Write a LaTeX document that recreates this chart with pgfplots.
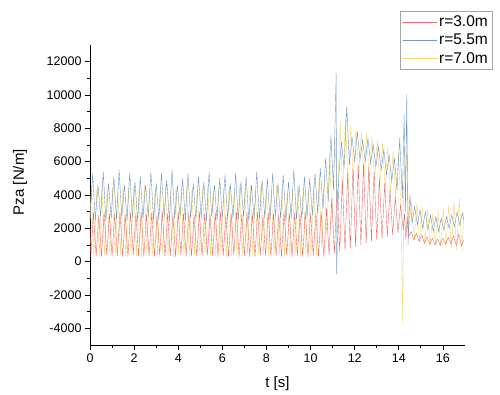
\documentclass[border=0pt]{standalone}
\usepackage{fontspec}
\setmainfont{Liberation Sans}
\usepackage{pgfplots}
\pgfplotsset{compat=1.18}
\definecolor{cred}{RGB}{228,110,110}
\definecolor{cblue}{RGB}{115,152,190}
\definecolor{cyel}{RGB}{244,214,118}
\begin{document}
\begin{tikzpicture}
\useasboundingbox (-90pt,-49pt) rectangle (410pt,345pt);
\begin{axis}[
  scale only axis, width=375pt, height=300pt,
  xmin=0, xmax=17, ymin=-5000, ymax=13000,
  axis lines=left, axis line style={-, line width=0.8pt},
  tick align=outside, major tick length=5pt, minor tick length=3pt,
  tick style={black, line width=0.8pt},
  xtick={0,2,...,16}, minor x tick num=1,
  ytick={-4000,-2000,...,12000}, minor y tick num=1,
  scaled y ticks=false,
  /pgf/number format/assume math mode=true,
  /pgf/number format/set thousands separator={},
  ticklabel style={font=\fontsize{12.5}{14}\selectfont},
  xlabel={t [s]}, ylabel={Pza [N/m]},
  label style={font=\fontsize{15}{17}\selectfont},
  xlabel style={at={(axis description cs:0.5,-0.13)}, anchor=center},
  ylabel style={at={(axis description cs:-0.187,0.543)}, anchor=center},
  reverse legend,
  legend style={at={(1.072,1.113)}, anchor=north east, draw=gray!70, fill=white,
    font=\fontsize{15.5}{17}\selectfont, row sep=2pt, inner xsep=2pt, inner ysep=2.5pt},
  legend cell align=left,
  legend image code/.code={\draw[#1, line width=0.6pt] (0pt,0pt) -- (34pt,0pt);},
  every axis plot/.append style={line width=0.4pt},
]
\addplot[cyel] table {
0.00 2500
0.06 4500
0.18 350
0.30 4300
0.42 300
0.54 4600
0.66 400
0.78 4400
0.90 300
1.02 4500
1.14 350
1.26 4200
1.38 450
1.50 4600
1.62 300
1.74 4400
1.86 400
1.98 4500
2.10 350
2.22 4300
2.34 300
2.46 4600
2.58 400
2.70 4400
2.82 350
2.94 4200
3.06 300
3.18 4500
3.30 450
3.42 4600
3.54 350
3.66 4300
3.78 300
3.90 4400
4.02 400
4.14 4500
4.26 350
4.38 4600
4.50 300
4.62 4300
4.74 400
4.86 4500
4.98 350
5.10 4400
5.22 450
5.34 4600
5.46 300
5.58 4200
5.70 350
5.82 4500
5.94 400
6.06 4400
6.18 300
6.30 4600
6.42 350
6.54 4300
6.66 400
6.78 4500
6.90 300
7.02 4400
7.14 450
7.26 4600
7.38 350
7.50 4300
7.62 300
7.74 4500
7.86 400
7.98 4400
8.10 350
8.22 4200
8.34 300
8.46 4600
8.58 400
8.70 4500
8.82 350
8.94 4300
9.06 300
9.18 4400
9.30 400
9.42 4600
9.54 350
9.66 4500
9.78 450
9.90 4400
10.02 300
10.14 4600
10.26 400
10.38 4800
10.50 800
10.62 5000
10.74 1500
10.86 6500
10.98 2500
11.10 7500
11.22 3500
11.34 8400
11.46 4000
11.58 8600
11.70 4500
11.82 8200
11.94 4800
12.06 8000
12.18 5000
12.30 7800
12.42 5000
12.54 7700
12.66 4900
12.78 7500
12.90 4800
13.02 7300
13.14 4600
13.26 7100
13.38 4400
13.50 6900
13.62 4100
13.74 6700
13.86 3800
13.98 6600
14.10 3200
14.18 -3850
14.22 4500
14.34 6500
14.46 2000
14.58 3600
14.70 1300
14.82 3500
14.94 1200
15.06 3300
15.18 1100
15.30 3100
15.42 1000
15.54 2900
15.66 1000
15.78 3000
15.90 900
16.02 3200
16.14 900
16.26 3400
16.38 800
16.50 3600
16.62 700
16.74 3800
16.86 600
16.95 3000
};
\addlegendentry{r=7.0m}
\addplot[cblue] table {
0.00 2600
0.12 5300
0.24 2500
0.36 4600
0.48 2700
0.60 5400
0.72 2450
0.84 4700
0.96 2600
1.08 5100
1.20 2550
1.32 5500
1.44 2700
1.56 4600
1.68 2500
1.80 5300
1.92 2650
2.04 4800
2.16 2450
2.28 5100
2.40 2600
2.52 4600
2.64 2700
2.76 5400
2.88 2500
3.00 4700
3.12 2550
3.24 5300
3.36 2650
3.48 4900
3.60 2450
3.72 5500
3.84 2600
3.96 4600
4.08 2700
4.20 5000
4.32 2500
4.44 5300
4.56 2600
4.68 4700
4.80 2550
4.92 5100
5.04 2650
5.16 4800
5.28 2450
5.40 5400
5.52 2700
5.64 4600
5.76 2500
5.88 5000
6.00 2600
6.12 5200
6.24 2550
6.36 4700
6.48 2650
6.60 5300
6.72 2500
6.84 4800
6.96 2700
7.08 5100
7.20 2450
7.32 4600
7.44 2600
7.56 5400
7.68 2550
7.80 4900
7.92 2650
8.04 5000
8.16 2500
8.28 5300
8.40 2700
8.52 4700
8.64 2600
8.76 5200
8.88 2450
9.00 4800
9.12 2650
9.24 5500
9.36 2550
9.48 4600
9.60 2600
9.72 5100
9.84 2700
9.96 5000
10.08 2800
10.20 5300
10.32 2900
10.44 5600
10.56 3200
10.68 6200
10.80 3600
10.92 7600
11.04 4300
11.16 11300
11.18 -750
11.28 5200
11.40 7200
11.52 5600
11.64 9300
11.76 5800
11.88 7500
12.00 6000
12.12 7800
12.24 6100
12.36 7300
12.48 6000
12.60 7400
12.72 5900
12.84 7000
12.96 5700
13.08 6900
13.20 5500
13.32 6700
13.44 5200
13.56 6400
13.68 4800
13.80 6200
13.92 4300
14.04 7400
14.16 3800
14.24 8800
14.30 3000
14.36 10050
14.42 1000
14.50 4000
14.60 2300
14.72 3300
14.84 2200
14.96 3100
15.08 2000
15.20 3000
15.32 1900
15.44 2800
15.56 1800
15.68 2700
15.80 1800
15.92 2600
16.04 1900
16.16 2700
16.28 2000
16.40 2800
16.52 2100
16.64 3000
16.76 2200
16.88 2900
16.95 2500
};
\addlegendentry{r=5.5m}
\addplot[cred] table {
0.00 2000
0.04 300
0.16 2950
0.28 350
0.40 2800
0.52 300
0.64 3000
0.76 400
0.88 2850
1.00 300
1.12 2900
1.24 350
1.36 3000
1.48 300
1.60 2800
1.72 300
1.84 2950
1.96 400
2.08 2900
2.20 350
2.32 3000
2.44 300
2.56 2850
2.68 350
2.80 2950
2.92 300
3.04 2800
3.16 400
3.28 3000
3.40 300
3.52 2900
3.64 350
3.76 2850
3.88 300
4.00 3000
4.12 400
4.24 2900
4.36 300
4.48 2950
4.60 350
4.72 2800
4.84 300
4.96 3000
5.08 300
5.20 2900
5.32 400
5.44 2850
5.56 350
5.68 2950
5.80 300
5.92 3000
6.04 350
6.16 2800
6.28 300
6.40 2900
6.52 400
6.64 3000
6.76 300
6.88 2850
7.00 350
7.12 2950
7.24 300
7.36 2900
7.48 300
7.60 3000
7.72 400
7.84 2800
7.96 350
8.08 2950
8.20 300
8.32 2900
8.44 350
8.56 2850
8.68 300
8.80 3000
8.92 400
9.04 2900
9.16 300
9.28 2950
9.40 350
9.52 2850
9.64 300
9.76 3000
9.88 300
10.00 2900
10.12 350
10.24 2950
10.36 300
10.48 3000
10.60 300
10.72 3200
10.84 400
10.96 3800
11.08 500
11.20 4300
11.32 600
11.44 4900
11.56 700
11.68 5300
11.80 800
11.92 5600
12.04 900
12.16 5800
12.28 1000
12.40 5900
12.52 1100
12.64 5700
12.76 1200
12.88 5400
13.00 1300
13.12 5000
13.24 1400
13.36 4700
13.48 1500
13.60 4300
13.72 1600
13.84 3900
13.96 1750
14.08 3400
14.20 1900
14.26 2900
14.32 1300
14.38 2700
14.44 1500
14.56 1800
14.68 1300
14.80 1700
14.92 1200
15.04 1600
15.16 1100
15.28 1500
15.40 1050
15.52 1400
15.64 1000
15.76 1350
15.88 1000
16.00 1400
16.12 1050
16.24 1450
16.36 1100
16.48 1550
16.60 1000
16.72 1650
16.84 950
16.95 1300
};
\addlegendentry{r=3.0m}
\end{axis}
\end{tikzpicture}
\end{document}
